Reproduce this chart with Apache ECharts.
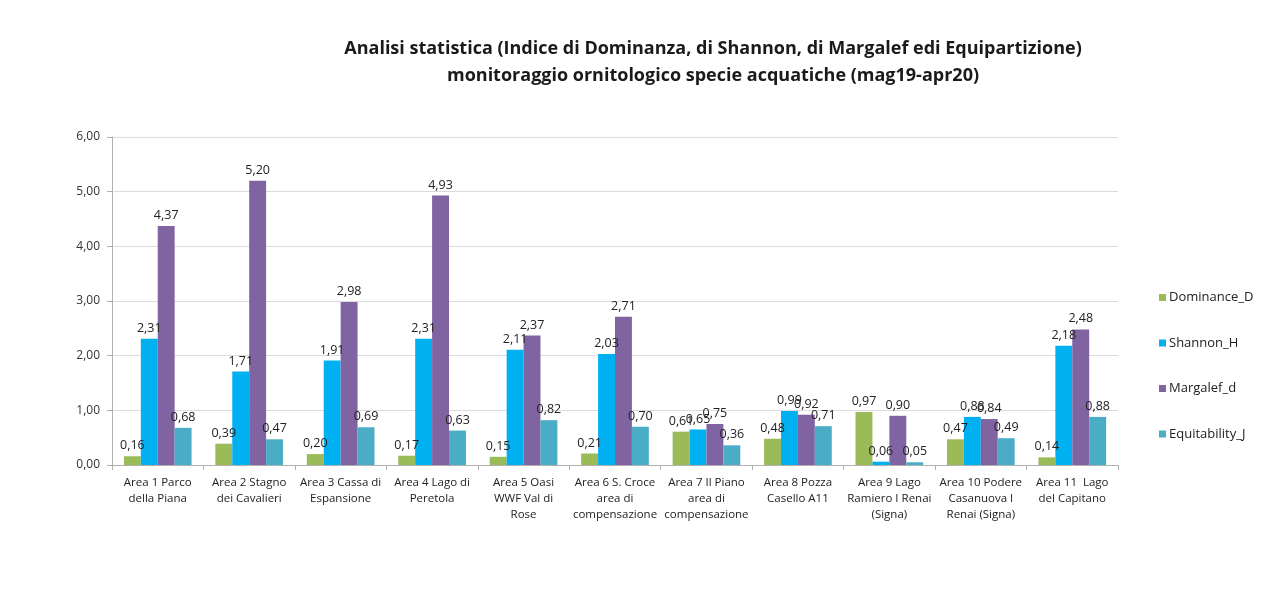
<!DOCTYPE html>
<html><head><meta charset="utf-8">
<script src="https://cdn.jsdelivr.net/npm/echarts@6/dist/echarts.min.js"></script>
<style>html,body{margin:0;padding:0;background:#fff}#c{width:1285px;height:598px}</style>
</head><body><div id="c"></div>
<script>
const categories = [
  "Area 1 Parco\ndella Piana",
  "Area 2 Stagno\ndei Cavalieri",
  "Area 3 Cassa di\nEspansione",
  "Area 4 Lago di\nPeretola",
  "Area 5 Oasi\nWWF Val di\nRose",
  "Area 6 S. Croce\narea di\ncompensazione",
  "Area 7 Il Piano\narea di\ncompensazione",
  "Area 8 Pozza\nCasello A11",
  "Area 9 Lago\nRamiero I Renai\n(Signa)",
  "Area 10 Podere\nCasanuova I\nRenai (Signa)",
  "Area 11  Lago\ndel Capitano"
];
const dominance = [0.16, 0.39, 0.20, 0.17, 0.15, 0.21, 0.61, 0.48, 0.97, 0.47, 0.14];
const shannon = [2.31, 1.71, 1.91, 2.31, 2.11, 2.03, 0.65, 0.99, 0.06, 0.88, 2.18];
const margalef = [4.37, 5.20, 2.98, 4.93, 2.37, 2.71, 0.75, 0.92, 0.90, 0.84, 2.48];
const equitability = [0.68, 0.47, 0.69, 0.63, 0.82, 0.70, 0.36, 0.71, 0.05, 0.49, 0.88];
const seriesNames = ["Dominance_D", "Shannon_H", "Margalef_d", "Equitability_J"];
const yTicks = [0, 1, 2, 3, 4, 5, 6];

const font = "'Open Sans', 'Noto Sans', sans-serif";
const fmt = v => v.toFixed(2).replace('.', ',');
const colors = ['#9BBB59', '#00B0F0', '#8064A2', '#4BACC6'];
const data = [dominance, shannon, margalef, equitability];

const chart = echarts.init(document.getElementById('c'), null, {renderer: 'canvas'});
chart.setOption({
  backgroundColor: '#fff',
  animation: false,
  title: {
    text: 'Analisi statistica (Indice di Dominanza, di Shannon, di Margalef edi Equipartizione)\nmonitoraggio ornitologico specie acquatiche (mag19-apr20)',
    left: 708, top: 30, textAlign: 'center',
    textStyle: {fontFamily: font, fontSize: 18, fontWeight: 'bold', color: '#1a1a1a', lineHeight: 27}
  },
  legend: {
    orient: 'vertical', left: 1154, top: 286, itemGap: 32.5,
    itemWidth: 7, itemHeight: 7, icon: 'rect',
    textStyle: {fontFamily: font, fontSize: 13, color: '#222', padding: [0, 0, 0, -2]},
    data: seriesNames
  },
  grid: {left: 112, right: 167, top: 137, bottom: 133, containLabel: false},
  xAxis: {
    type: 'category', data: categories,
    axisLine: {lineStyle: {color: '#b0b0b0'}},
    axisTick: {show: true, length: 5, lineStyle: {color: '#b0b0b0'}},
    axisLabel: {fontFamily: font, fontSize: 11.5, color: '#222', lineHeight: 16, margin: 10, interval: 0}
  },
  yAxis: {
    type: 'value', min: 0, max: 6, interval: 1,
    axisLine: {show: true, lineStyle: {color: '#b0b0b0'}},
    axisTick: {show: true, inside: false, length: 5, lineStyle: {color: '#b0b0b0'}},
    axisLabel: {fontFamily: font, fontSize: 12, color: '#333', margin: 12, formatter: v => fmt(v)},
    splitLine: {lineStyle: {color: '#dcdcdc'}}
  },
  series: seriesNames.map((n, i) => ({
    name: n, type: 'bar', data: data[i],
    barGap: '0%', barCategoryGap: '26%',
    itemStyle: {color: colors[i]},
    label: {show: true, position: 'top', distance: 4, fontFamily: font, fontSize: 12.5, color: '#222', formatter: p => fmt(p.value)}
  }))
});
</script></body></html>
